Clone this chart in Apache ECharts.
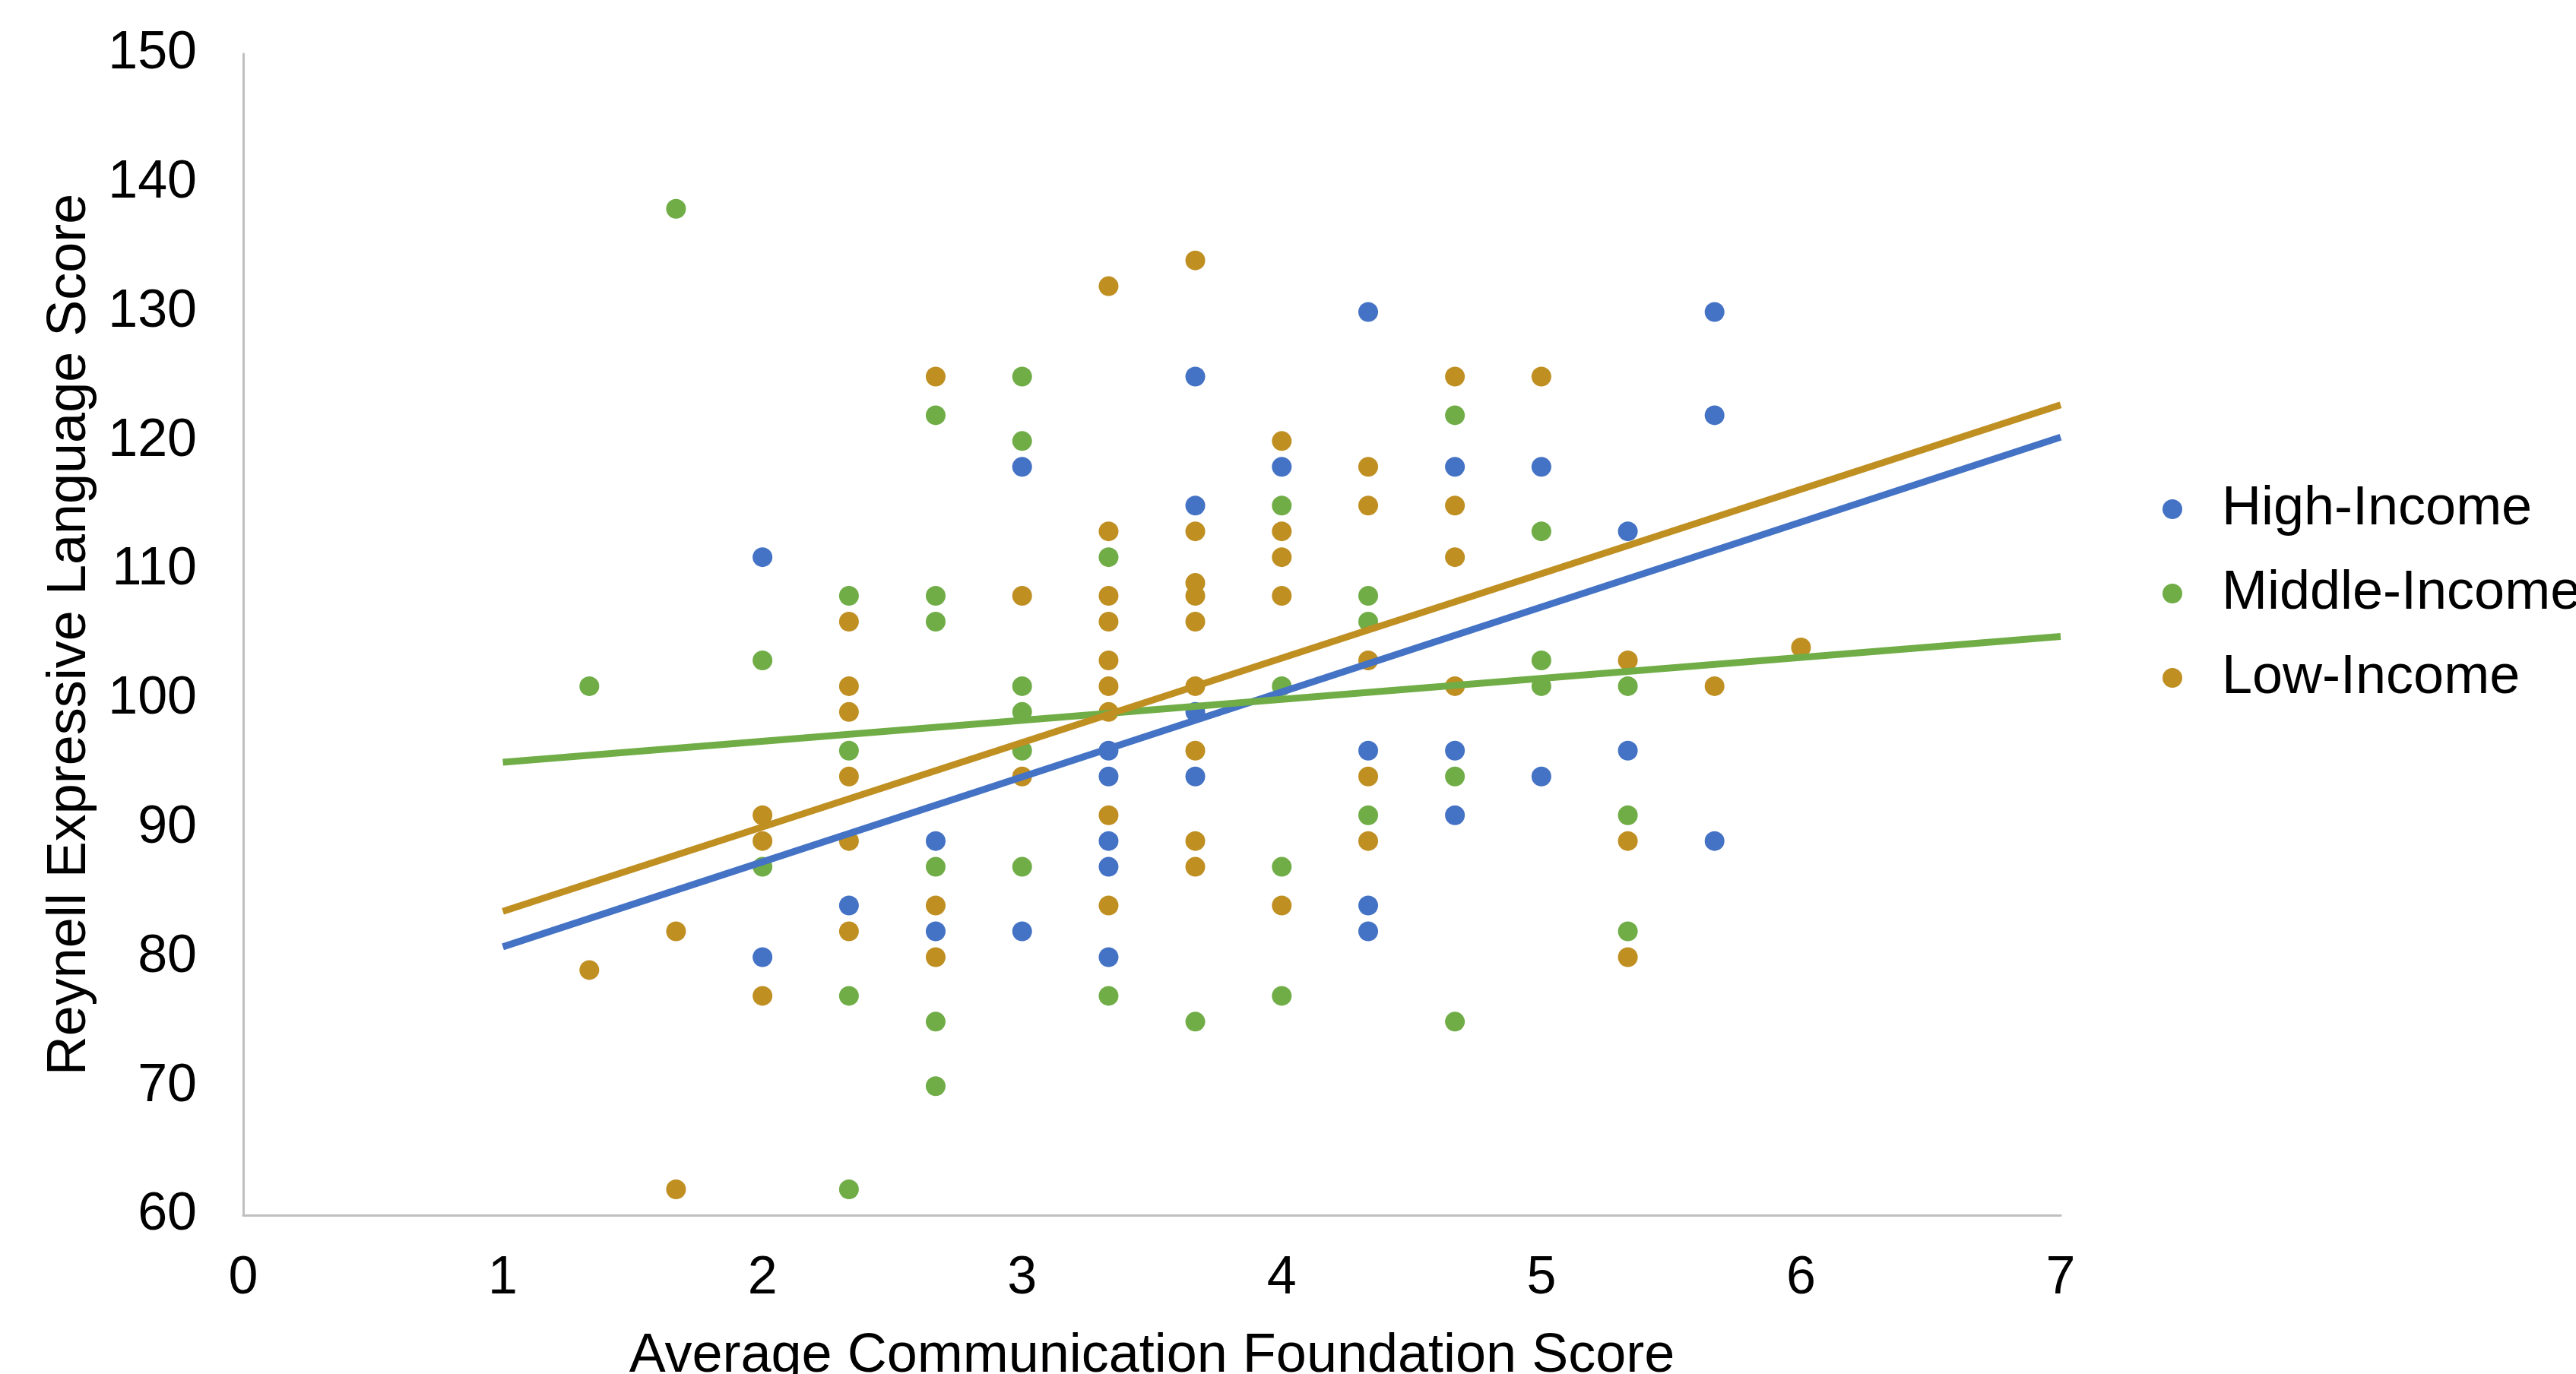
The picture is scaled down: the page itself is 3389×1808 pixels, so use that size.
<!DOCTYPE html>
<html>
<head>
<meta charset="utf-8">
<script src="https://cdn.jsdelivr.net/npm/echarts@6/dist/echarts.min.js"></script>
<style>
  html, body { margin: 0; padding: 0; background: #ffffff; overflow: hidden; }
  #chart { width: 3389px; height: 1808px; }
</style>
</head>
<body>
<div id="chart"></div>
<script>
// Average Communication Foundation Score (x) vs Reynell Expressive Language Score (y)
const seriesNames = ['High-Income', 'Middle-Income', 'Low-Income'];

const highIncomeX = [2, 2, 2.333, 2.667, 2.667, 3, 3, 3.333, 3.333, 3.333, 3.333, 3.333,
  3.667, 3.667, 3.667, 3.667, 4, 4.333, 4.333, 4.333, 4.333, 4.667, 4.667, 4.667,
  5, 5, 5.333, 5.333, 5.667, 5.667, 5.667];
const highIncomeY = [111, 80, 84, 89, 82, 118, 82, 96, 94, 89, 87, 80,
  125, 115, 99, 94, 118, 130, 96, 84, 82, 118, 96, 91,
  118, 94, 113, 96, 130, 122, 89];

const middleIncomeX = [1.333, 1.667, 2, 2, 2.333, 2.333, 2.333, 2.333,
  2.667, 2.667, 2.667, 2.667, 2.667, 2.667, 3, 3, 3, 3, 3, 3,
  3.333, 3.333, 3.667, 4, 4, 4, 4, 4.333, 4.333, 4.333,
  4.667, 4.667, 4.667, 5, 5, 5, 5.333, 5.333, 5.333];
const middleIncomeY = [101, 138, 103, 87, 108, 96, 77, 62,
  122, 108, 106, 87, 75, 70, 125, 120, 101, 99, 96, 87,
  111, 77, 75, 115, 101, 87, 77, 108, 106, 91,
  122, 94, 75, 113, 103, 101, 101, 91, 82];

const lowIncomeX = [1.333, 1.667, 1.667, 2, 2, 2, 2.333, 2.333, 2.333, 2.333, 2.333, 2.333,
  2.667, 2.667, 2.667, 3, 3,
  3.333, 3.333, 3.333, 3.333, 3.333, 3.333, 3.333, 3.333, 3.333,
  3.667, 3.667, 3.667, 3.667, 3.667, 3.667, 3.667, 3.667, 3.667,
  4, 4, 4, 4, 4, 4.333, 4.333, 4.333, 4.333, 4.333,
  4.667, 4.667, 4.667, 4.667, 5, 5.333, 5.333, 5.333, 5.667, 6];
const lowIncomeY = [79, 82, 62, 91, 89, 77, 106, 101, 99, 94, 89, 82,
  125, 84, 80, 108, 94,
  132, 113, 108, 106, 103, 101, 99, 91, 84,
  134, 113, 109, 108, 106, 101, 96, 89, 87,
  120, 113, 111, 108, 84, 118, 115, 103, 94, 89,
  125, 115, 111, 101, 125, 103, 89, 80, 101, 104];

// Linear trendline end values at x = 1 and x = 7
const trendX = [1, 7];
const highIncomeTrend = [80.8, 120.3];
const middleIncomeTrend = [95.1, 104.85];
const lowIncomeTrend = [83.55, 122.8];

const xTicks = { min: 0, max: 7, interval: 1 };
const yTicks = { min: 60, max: 150, interval: 10 };

const colors = ['#4472C4', '#70AD47', '#BF8F22'];
const FONT = "'Liberation Sans', Arial, sans-serif";

function pairs(xs, ys) {
  return xs.map((x, i) => [x, ys[i]]);
}

const pointSets = [
  pairs(highIncomeX, highIncomeY),
  pairs(middleIncomeX, middleIncomeY),
  pairs(lowIncomeX, lowIncomeY)
];
const trendSets = [
  pairs(trendX, highIncomeTrend),
  pairs(trendX, middleIncomeTrend),
  pairs(trendX, lowIncomeTrend)
];

const series = [];
seriesNames.forEach((name, i) => {
  series.push({
    name: name,
    type: 'scatter',
    data: pointSets[i],
    symbol: 'circle',
    symbolSize: 26,
    itemStyle: { color: colors[i], opacity: 1 },
    z: 2
  });
});
seriesNames.forEach((name, i) => {
  series.push({
    name: name + ' trend',
    type: 'line',
    data: trendSets[i],
    symbol: 'none',
    lineStyle: { color: colors[i], width: 9 },
    itemStyle: { color: colors[i] },
    z: 3,
    silent: true
  });
});

const chart = echarts.init(document.getElementById('chart'), null, { renderer: 'canvas' });
chart.setOption({
  animation: false,
  backgroundColor: '#ffffff',
  textStyle: { fontFamily: FONT },
  grid: {
    left: 320, right: 678, top: 71, bottom: 209,
    containLabel: false,
    outerBoundsMode: 'none'
  },
  legend: {
    data: seriesNames,
    orient: 'vertical',
    left: 2840,
    top: 629,
    itemWidth: 120,
    itemHeight: 26,
    itemGap: 39,
    icon: 'circle',
    symbolKeepAspect: true,
    textStyle: { fontFamily: FONT, fontSize: 72, color: '#000000', lineHeight: 72 }
  },
  xAxis: {
    type: 'value',
    min: xTicks.min,
    max: xTicks.max,
    interval: xTicks.interval,
    name: 'Average Communication Foundation Score',
    nameLocation: 'middle',
    nameGap: 150,
    nameTextStyle: { fontFamily: FONT, fontSize: 72, color: '#000000' },
    axisLine: { show: true, onZero: false, lineStyle: { color: '#BFBFBF', width: 3 } },
    axisTick: { show: false },
    splitLine: { show: false },
    axisLabel: { fontFamily: FONT, fontSize: 70, color: '#000000', margin: 49 }
  },
  yAxis: {
    type: 'value',
    min: yTicks.min,
    max: yTicks.max,
    interval: yTicks.interval,
    name: 'Reynell Expressive Language Score',
    nameLocation: 'middle',
    nameGap: 192,
    nameTextStyle: { fontFamily: FONT, fontSize: 72, color: '#000000' },
    axisLine: { show: true, onZero: false, lineStyle: { color: '#BFBFBF', width: 3 } },
    axisTick: { show: false },
    splitLine: { show: false },
    axisLabel: { fontFamily: FONT, fontSize: 70, color: '#000000', margin: 61 }
  },
  series: series
});
</script>
</body>
</html>
